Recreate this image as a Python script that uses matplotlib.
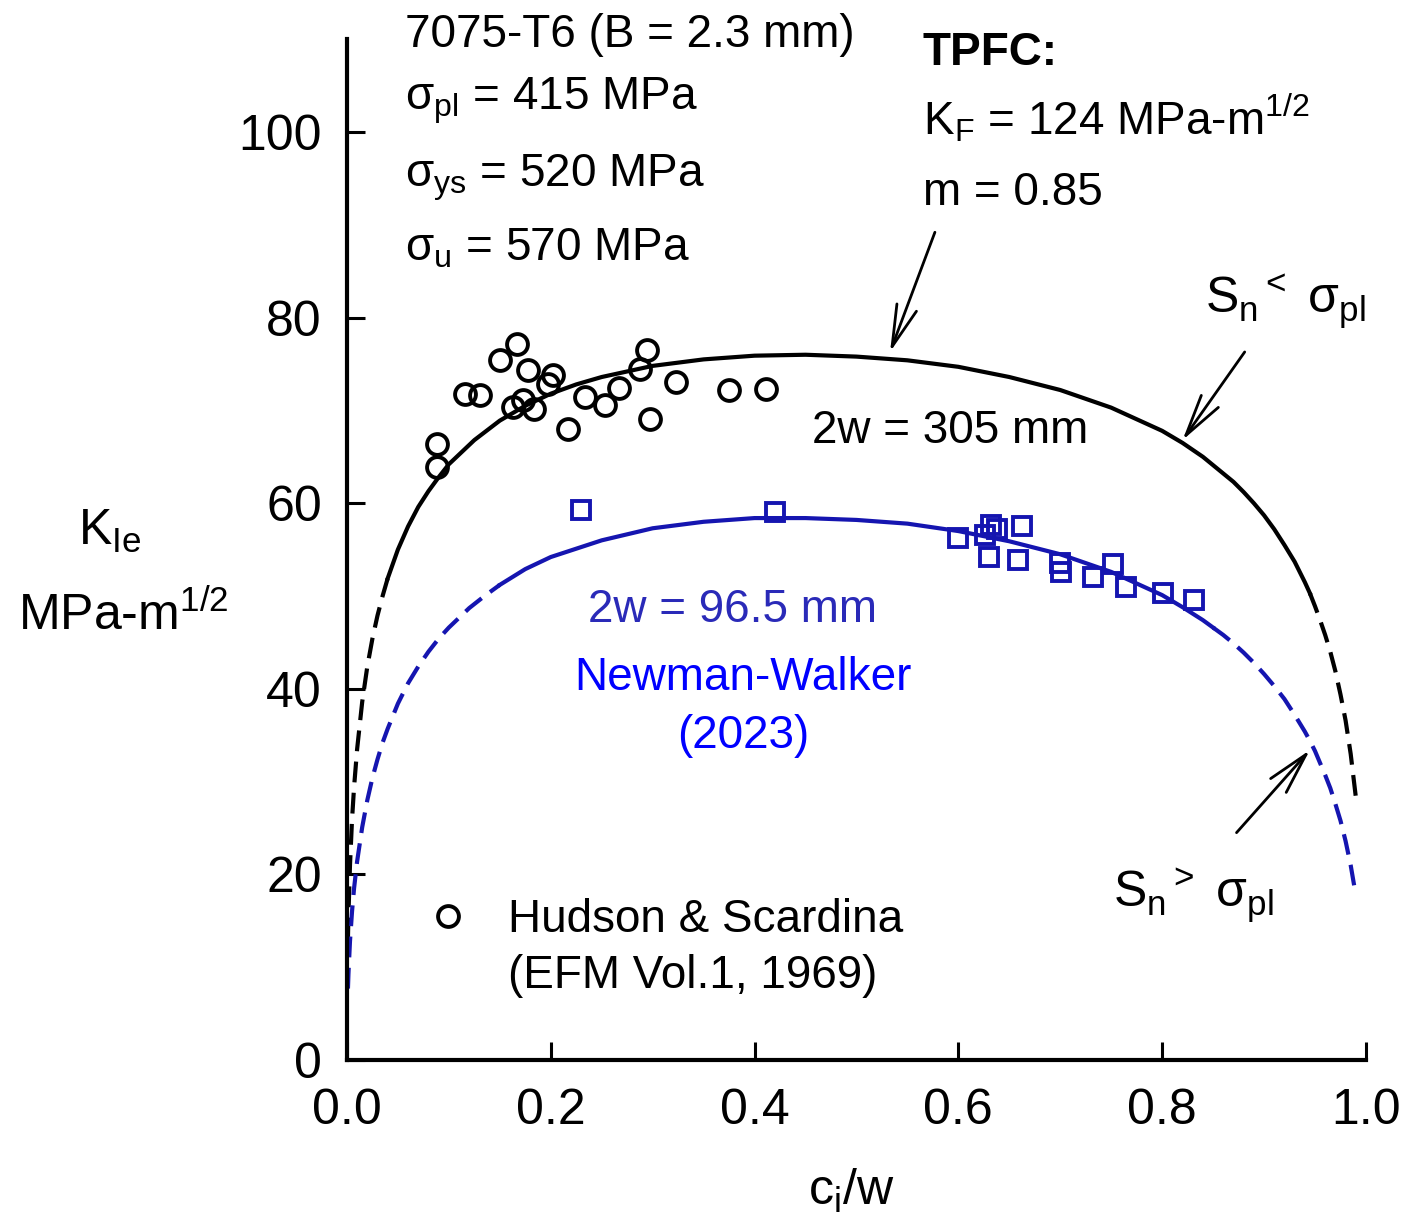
import matplotlib.pyplot as plt

plt.rcParams['font.family'] = ['Liberation Sans', 'DejaVu Sans']
plt.rcParams['mathtext.fontset'] = 'custom'
plt.rcParams['mathtext.rm'] = 'Liberation Sans'
plt.rcParams['mathtext.it'] = 'Liberation Sans:italic'
plt.rcParams['mathtext.bf'] = 'Liberation Sans:bold'

# Hudson & Scardina data (2w = 305 mm)
hs_x = [0.088, 0.088, 0.116, 0.131, 0.150, 0.167, 0.178, 0.163, 0.173, 0.184, 0.197,
        0.202, 0.217, 0.234, 0.253, 0.267, 0.288, 0.294, 0.297, 0.323, 0.375, 0.411]
hs_k = [66.4, 63.9, 71.8, 71.7, 75.4, 77.2, 74.4, 70.4, 71.1, 70.2, 72.8,
        73.8, 68.0, 71.4, 70.6, 72.4, 74.5, 76.5, 69.1, 73.1, 72.2, 72.3]

# 2w = 96.5 mm data
nw_x = [0.230, 0.420, 0.600, 0.626, 0.632, 0.638, 0.630, 0.662, 0.659, 0.700, 0.701,
        0.732, 0.752, 0.765, 0.801, 0.831]
nw_k = [59.3, 59.1, 56.2, 56.6, 57.6, 57.2, 54.2, 57.5, 53.9, 53.6, 52.6,
        52.1, 53.5, 51.0, 50.3, 49.6]

# TPFC curve, 2w = 305 mm (dashed where Sn > sigma_pl)
big_x_lo = [0.001, 0.0015, 0.003, 0.005, 0.007, 0.01, 0.015, 0.02, 0.025, 0.03, 0.035, 0.04]
big_k_lo = [13.1, 15.7, 21.0, 25.9, 29.4, 33.5, 38.6, 42.4, 45.4, 47.9, 50.0, 51.9]
big_x = [0.04, 0.05, 0.06, 0.07, 0.08, 0.09, 0.10, 0.125, 0.15, 0.175, 0.20, 0.225, 0.25,
         0.30, 0.35, 0.40, 0.45, 0.50, 0.55, 0.60, 0.65, 0.70, 0.75, 0.80, 0.82, 0.84,
         0.85, 0.86, 0.87, 0.88, 0.89, 0.90, 0.91, 0.92, 0.93, 0.94, 0.945]
big_k = [51.9, 55.0, 57.5, 59.6, 61.3, 62.8, 64.2, 66.8, 68.9, 70.5, 71.8, 72.8, 73.6,
         74.8, 75.5, 75.9, 76.0, 75.8, 75.4, 74.7, 73.6, 72.2, 70.3, 67.8, 66.5, 65.0,
         64.1, 63.2, 62.3, 61.2, 60.0, 58.7, 57.2, 55.5, 53.7, 51.5, 50.3]
big_x_hi = [0.945, 0.95, 0.955, 0.96, 0.965, 0.97, 0.975, 0.98, 0.985, 0.99]
big_k_hi = [50.3, 48.9, 47.4, 45.8, 44.0, 41.9, 39.4, 36.6, 33.0, 28.4]

# TPFC curve, 2w = 96.5 mm
sm_x_lo = [0.001, 0.0015, 0.003, 0.005, 0.007, 0.01, 0.015, 0.02, 0.025, 0.03, 0.035,
           0.04, 0.05, 0.06, 0.07, 0.08, 0.09, 0.10, 0.12, 0.135, 0.15]
sm_k_lo = [7.7, 9.3, 12.8, 16.0, 18.5, 21.4, 25.1, 28.0, 30.4, 32.4, 34.2,
           35.7, 38.4, 40.6, 42.4, 44.0, 45.4, 46.6, 48.7, 50.0, 51.2]
sm_x = [0.15, 0.175, 0.20, 0.25, 0.30, 0.35, 0.40, 0.45, 0.50, 0.55, 0.60, 0.65, 0.70,
        0.75, 0.80, 0.82, 0.84, 0.85]
sm_k = [51.2, 52.9, 54.2, 56.0, 57.3, 58.0, 58.4, 58.4, 58.2, 57.8, 57.0, 55.9, 54.5,
        52.6, 50.1, 48.8, 47.4, 46.6]
sm_x_hi = [0.85, 0.86, 0.87, 0.88, 0.89, 0.90, 0.91, 0.92, 0.93, 0.94, 0.945, 0.95,
           0.955, 0.96, 0.965, 0.97, 0.975, 0.98, 0.985, 0.99]
sm_k_hi = [46.6, 45.8, 44.9, 43.9, 42.8, 41.6, 40.3, 38.9, 37.2, 35.4, 34.4, 33.3,
           32.0, 30.7, 29.3, 27.6, 25.8, 23.6, 21.0, 17.8]

xticks = [0.0, 0.2, 0.4, 0.6, 0.8, 1.0]
xticklabels = ['0.0', '0.2', '0.4', '0.6', '0.8', '1.0']
yticks = [0, 20, 40, 60, 80, 100]

blue = '#1515b0'
dash = (0, (5, 2.5))
fs = 33

fig = plt.figure(figsize=(14.04, 12.30), dpi=100)
ax = fig.add_axes([0.2471, 0.1382, 0.7258, 0.8299])

ax.plot(big_x, big_k, color='k', lw=3)
ax.plot(big_x_lo, big_k_lo, color='k', lw=3, ls=dash)
ax.plot(big_x_hi, big_k_hi, color='k', lw=3, ls=dash)
ax.plot(sm_x, sm_k, color=blue, lw=3)
ax.plot(sm_x_lo, sm_k_lo, color=blue, lw=3, ls=dash)
ax.plot(sm_x_hi, sm_k_hi, color=blue, lw=3, ls=dash)

ax.plot(hs_x, hs_k, 'o', mfc='none', mec='k', ms=15, mew=2.8)
ax.plot(nw_x, nw_k, 's', mfc='none', mec=blue, ms=13, mew=2.8)

ax.set_xlim(0, 1.0)
ax.set_ylim(0, 110)
ax.set_xticks(xticks)
ax.set_xticklabels(xticklabels)
ax.set_yticks(yticks)
ax.spines['top'].set_visible(False)
ax.spines['right'].set_visible(False)
ax.spines['left'].set_linewidth(3)
ax.spines['bottom'].set_linewidth(3)
ax.tick_params(direction='in', length=13, width=2.2, labelsize=36)
ax.tick_params(axis='y', pad=18)
ax.tick_params(axis='x', pad=20)

# axis labels
ax.text(-0.264, 55.5, r'K$_{\mathrm{Ie}}$', fontsize=36, clip_on=False)
ax.text(-0.323, 46.3, r'MPa-m$^{\mathrm{1/2}}$', fontsize=36, clip_on=False)
ax.text(0.452, -15.6, r'c$_{\mathrm{i}}$/w', fontsize=36, clip_on=False)

# material info
ax.text(0.057, 109.2, '7075-T6 (B = 2.3 mm)', fontsize=fs, clip_on=False)
ax.text(0.057, 102.4, r'σ$_{\mathrm{pl}}$ = 415 MPa', fontsize=fs)
ax.text(0.057, 94.1, r'σ$_{\mathrm{ys}}$ = 520 MPa', fontsize=fs)
ax.text(0.057, 86.2, r'σ$_{\mathrm{u}}$ = 570 MPa', fontsize=fs)

ax.text(0.565, 107.2, 'TPFC:', fontsize=fs, fontweight='bold')
ax.text(0.565, 99.7, r'K$_{\mathrm{F}}$ = 124 MPa-m$^{\mathrm{1/2}}$', fontsize=fs)
ax.text(0.565, 92.1, 'm = 0.85', fontsize=fs)

ax.text(0.842, 80.5, r'S$_{\mathrm{n}}{}^{<}$ σ$_{\mathrm{pl}}$', fontsize=36)
ax.text(0.752, 16.5, r'S$_{\mathrm{n}}{}^{>}$ σ$_{\mathrm{pl}}$', fontsize=36)

ax.text(0.456, 66.5, '2w = 305 mm', fontsize=fs)
ax.text(0.2365, 47.2, '2w = 96.5 mm', fontsize=fs, color='#2a2ab8')
ax.text(0.389, 39.9, 'Newman-Walker', fontsize=fs, color='#0000ff', ha='center')
ax.text(0.389, 33.6, '(2023)', fontsize=fs, color='#0000ff', ha='center')

# legend
ax.plot([0.099], [15.5], 'o', mfc='none', mec='k', ms=15, mew=2.8)
ax.text(0.158, 13.8, 'Hudson & Scardina', fontsize=fs)
ax.text(0.158, 7.8, '(EFM Vol.1, 1969)', fontsize=fs)

# arrows
arr = dict(arrowstyle='->, head_length=1.0, head_width=0.25', color='k', lw=2,
           mutation_scale=30, shrinkA=0, shrinkB=0)
ax.annotate('', xy=(0.533, 76.3), xytext=(0.577, 89.2), arrowprops=arr)
ax.annotate('', xy=(0.820, 66.8), xytext=(0.881, 76.3), arrowprops=arr)
ax.annotate('', xy=(0.945, 33.4), xytext=(0.873, 24.5), arrowprops=arr)

plt.savefig('out.png', dpi=100)
